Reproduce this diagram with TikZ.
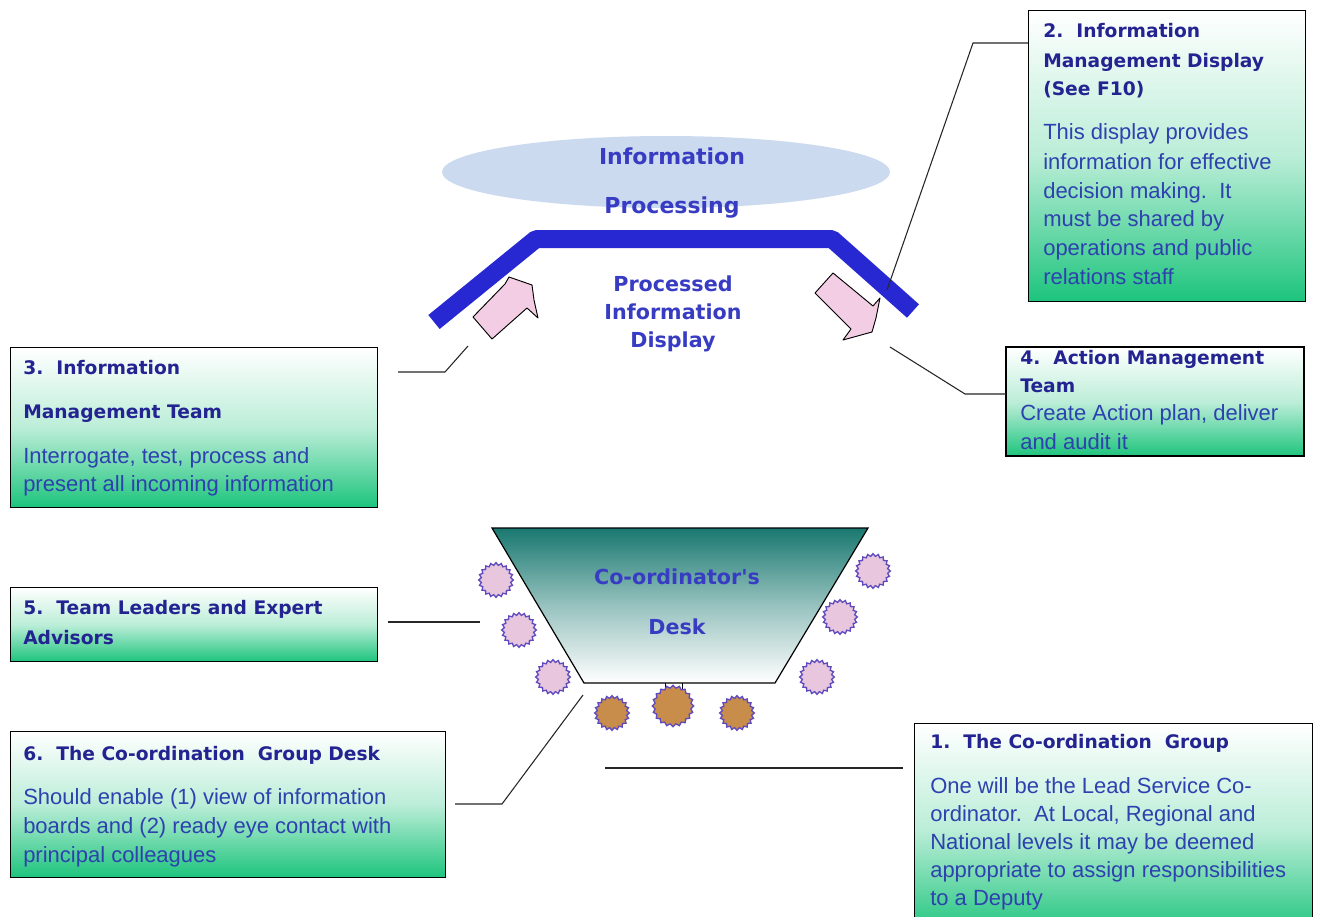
\documentclass[tikz,border=0pt]{standalone}
\usepackage{fontspec}
\setmainfont{Liberation Sans}
\newfontfamily\headfont{DejaVu Sans}
\usetikzlibrary{shapes.symbols,shapes.geometric}

\definecolor{boxgreen}{RGB}{28,196,124}
\definecolor{titleblue}{RGB}{35,35,145}
\definecolor{bodyblue}{RGB}{45,65,175}
\definecolor{labelblue}{RGB}{55,60,195}
\definecolor{barblue}{RGB}{40,40,210}
\definecolor{haze}{RGB}{203,218,238}
\definecolor{deskteal}{RGB}{25,120,112}
\definecolor{arrowpink}{RGB}{242,205,228}
\definecolor{seatlilac}{RGB}{232,198,222}
\definecolor{seatbrown}{RGB}{200,140,75}
\definecolor{seatedge}{RGB}{95,75,190}

\tikzset{
  infobox/.style={draw=black, line width=1.1pt, anchor=north west, inner sep=0pt,
    top color=white, bottom color=boxgreen, middle color=boxgreen!30!white},
  boxtitle/.style={font=\headfont\bfseries\fontsize{14}{17}\selectfont,
    text=titleblue, anchor=base west, inner sep=0pt},
  boxbody/.style={font=\fontsize{16.5}{20}\selectfont,
    text=bodyblue, anchor=base west, inner sep=0pt},
  biglabel/.style={font=\headfont\bfseries\fontsize{15.5}{19}\selectfont,
    text=labelblue, inner sep=0pt},
  link/.style={draw=black!85, line width=0.8pt},
  pinkarrow/.style={draw=black, line width=0.7pt, fill=arrowpink, line join=round},
  seat/.style={starburst, starburst points=20, starburst point height=1.9pt,
    random starburst=0, inner sep=0pt, minimum width=26pt, minimum height=26pt,
    draw=seatedge, line width=1pt, fill=seatlilac},
  mainseat/.style={seat, fill=seatbrown}
}

\begin{document}
\begin{tikzpicture}[x=0.75pt,y=-0.75pt]
\useasboundingbox (0,0) rectangle (1318,917);
\clip (0,0) rectangle (1318,917);
\fill[white] (0,0) rectangle (1318,917);

% --- information processing area ---
\node[ellipse, fill=haze, minimum width=336pt, minimum height=54pt, inner sep=0pt]
  (cloud) at (666,172) {};
\node[biglabel, font=\headfont\bfseries\fontsize{16.5}{19}\selectfont] (ip1) at (672,156) {Information};
\node[biglabel, font=\headfont\bfseries\fontsize{16.5}{19}\selectfont] (ip2) at (672,208) {Processing};

% display boards
\draw[barblue, line width=13.5pt, line join=bevel] (434,322) -- (536,239) -- (832,239) -- (913,311);

\node[biglabel] (pd1) at (673,284) {Processed};
\node[biglabel] (pd2) at (673,312) {Information};
\node[biglabel] (pd3) at (673,342) {Display};

% flow arrows towards and from the boards
\draw[pinkarrow] (473,317) -- (505,284) -- (509,277) -- (532,285) -- (534,300)
  -- (538,318) -- (527,308) -- (492,339) -- cycle;
\draw[pinkarrow] (815,293) -- (833,273) -- (873,306) -- (880,298) -- (876,318)
  -- (872,332) -- (843,340) -- (851,329) -- cycle;

% --- co-ordinator's desk ---
\path[draw=black, line width=0.9pt, top color=deskteal, bottom color=white,
  middle color=deskteal!45!white]
  (492,528) -- (868,528) -- (775,683) -- (584,683) -- cycle;
\node[biglabel] (dk1) at (677,577) {Co-ordinator's};
\node[biglabel] (dk2) at (677,627) {Desk};

% seats round the desk
\node[seat] (sl1) at (496,580) {};
\node[seat] (sl2) at (519,630) {};
\node[seat] (sl3) at (553,677) {};
\node[seat] (sr1) at (873,571) {};
\node[seat] (sr2) at (840,617) {};
\node[seat] (sr3) at (817,677) {};
\draw[black, line width=0.7pt] (665,683) -- (665,690) (682,683) -- (682,690);
\node[mainseat] (sb1) at (612,713) {};
\node[mainseat, minimum width=31pt, minimum height=31pt] (sb2) at (673,706) {};
\node[mainseat] (sb3) at (737,713) {};

% --- information boxes ---
% 2
\node[infobox, minimum width=207.75pt, minimum height=218.25pt] (b2) at (1028,10) {};
\node[boxtitle] (b2t1) at (1043,38) {2.\ \ Information};
\node[boxtitle] (b2t2) at (1043,68) {Management Display};
\node[boxtitle] (b2t3) at (1043,96) {(See F10)};
\node[boxbody] (b2l1) at (1043,140) {This display provides};
\node[boxbody] (b2l2) at (1043,169) {information for effective};
\node[boxbody] (b2l3) at (1043,198) {decision making.\ \ It};
\node[boxbody] (b2l4) at (1043,226) {must be shared by};
\node[boxbody] (b2l5) at (1043,255) {operations and public};
\node[boxbody] (b2l6) at (1043,284) {relations staff};

% 3
\node[infobox, minimum width=275.25pt, minimum height=120pt] (b3) at (10,347) {};
\node[boxtitle] (b3t1) at (23,374) {3.\ \ Information};
\node[boxtitle] (b3t2) at (23,418) {Management Team};
\node[boxbody] (b3l1) at (23,463) {Interrogate, test, process and};
\node[boxbody] (b3l2) at (23,491) {present all incoming information};

% 4 (its last line runs into the frame, so the text is clipped to the box)
\node[infobox, draw=none, minimum width=223.5pt, minimum height=81.75pt] (b4) at (1006,347) {};
\begin{scope}
\clip (1006,347) rectangle (1304,456);
\node[boxtitle] (b4t1) at (1020,364) {4.\ \ Action Management};
\node[boxtitle] (b4t2) at (1020,392) {Team};
\node[boxbody] (b4l1) at (1020,420) {Create Action plan, deliver};
\node[boxbody] (b4l2) at (1020,449) {and audit it};
\end{scope}
\draw[black, line width=1.1pt] (1006,347) rectangle (1304,456);

% 5
\node[infobox, minimum width=275.25pt, minimum height=55.5pt] (b5) at (10,587) {};
\node[boxtitle] (b5t1) at (23,614) {5.\ \ Team Leaders and Expert};
\node[boxtitle] (b5t2) at (23,644) {Advisors};

% 6
\node[infobox, minimum width=326.25pt, minimum height=109.5pt] (b6) at (10,731) {};
\node[boxtitle] (b6t1) at (23,760) {6.\ \ The Co-ordination\ \ Group Desk};
\node[boxbody] (b6l1) at (23,804) {Should enable (1) view of information};
\node[boxbody] (b6l2) at (23,833) {boards and (2) ready eye contact with};
\node[boxbody] (b6l3) at (23,862) {principal colleagues};

% 1
\node[infobox, minimum width=298.5pt, minimum height=159pt] (b1) at (914,723) {};
\node[boxtitle] (b1t1) at (930,748) {1.\ \ The Co-ordination\ \ Group};
\node[boxbody] (b1l1) at (930,793) {One will be the Lead Service Co-};
\node[boxbody] (b1l2) at (930,821) {ordinator.\ \ At Local, Regional and};
\node[boxbody] (b1l3) at (930,849) {National levels it may be deemed};
\node[boxbody] (b1l4) at (930,877) {appropriate to assign responsibilities};
\node[boxbody] (b1l5) at (930,905) {to a Deputy};

% --- leader lines ---
\coordinate (k2a) at (887,290);  \coordinate (k2b) at (973,43);  \coordinate (k2c) at (1028,43);
\coordinate (k3a) at (398,372);  \coordinate (k3b) at (445,372); \coordinate (k3c) at (468,346);
\coordinate (k4a) at (890,347);  \coordinate (k4b) at (965,394); \coordinate (k4c) at (1006,394);
\coordinate (k5a) at (388,622);  \coordinate (k5b) at (480,622);
\coordinate (k6a) at (455,804);  \coordinate (k6b) at (502,804); \coordinate (k6c) at (583,695);
\coordinate (k1a) at (605,768);  \coordinate (k1b) at (903,768);
\draw[link] (k2a) -- (k2b) -- (k2c);
\draw[link] (k3a) -- (k3b) -- (k3c);
\draw[link] (k4a) -- (k4b) -- (k4c);
\draw[link] (k5a) -- (k5b);
\draw[link] (k6a) -- (k6b) -- (k6c);
\draw[link] (k1a) -- (k1b);
\end{tikzpicture}
\end{document}
